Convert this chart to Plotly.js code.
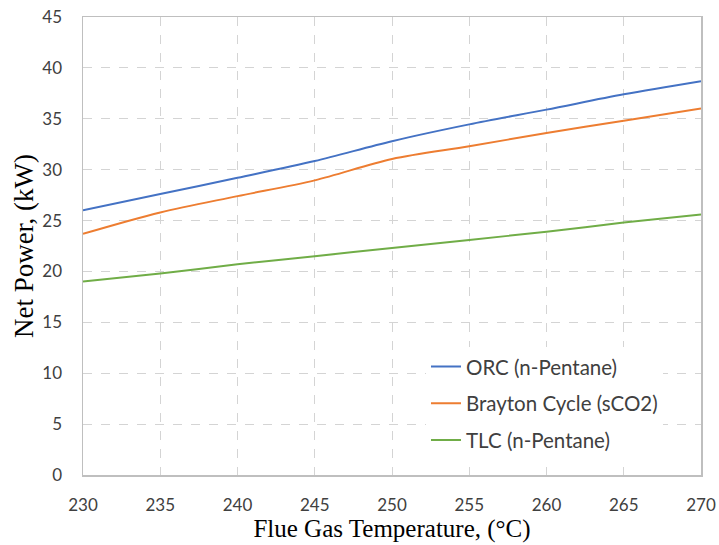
<!DOCTYPE html>
<html>
<head>
<meta charset="utf-8">
<script src="https://cdn.plot.ly/plotly-3.0.1.min.js"></script>
<style>html,body{margin:0;padding:0;background:#fff;}#chart{width:719px;height:545px;}</style>
</head>
<body>
<div id="chart"></div>
<script>
const temperature = [230, 235, 240, 245, 250, 255, 260, 265, 270];
const orcPentane = [26.0, 27.6, 29.2, 30.85, 32.8, 34.45, 35.9, 37.4, 38.7];
const braytonSco2 = [23.7, 25.8, 27.4, 28.95, 31.05, 32.3, 33.6, 34.8, 36.0];
const tlcPentane = [19.0, 19.8, 20.7, 21.5, 22.3, 23.1, 23.9, 24.8, 25.6];
const seriesNames = ["ORC (n-Pentane)", "Brayton Cycle (sCO2)", "TLC (n-Pentane)"];
const xTicks = [230, 235, 240, 245, 250, 255, 260, 265, 270];
const yTicks = [0, 5, 10, 15, 20, 25, 30, 35, 40, 45];

const colors = ["#4472C4", "#ED7D31", "#70AD47"];
const ys = [orcPentane, braytonSco2, tlcPentane];
const traces = ys.map((y, i) => ({
  x: temperature, y: y, name: seriesNames[i], type: "scatter", mode: "lines",
  line: {color: colors[i], width: 2, shape: "spline", smoothing: 0.9},
  legendgroup: "g" + i
}));

const gridCommon = {
  showgrid: true, gridcolor: "#d4d4d4", griddash: "dash", gridwidth: 1,
  showline: true, linecolor: "#bfbfbf", linewidth: 1.5, mirror: true,
  zeroline: false, ticks: "outside", tickcolor: "rgba(0,0,0,0)",
  tickfont: {family: "Lato, 'Open Sans', sans-serif", size: 17, color: "#404040"}
};

const layout = {
  width: 719, height: 545,
  margin: {l: 83, r: 18, t: 17, b: 70},
  paper_bgcolor: "#fff", plot_bgcolor: "#fff",
  showlegend: true,
  legend: {
    x: 0.555, y: 0.28, xanchor: "left", yanchor: "top",
    bgcolor: "#ffffff", borderwidth: 0,
    traceorder: "grouped", tracegroupgap: 7,
    font: {family: "Lato, 'Open Sans', sans-serif", size: 20.5, color: "#404040"},
    itemwidth: 30
  },
  xaxis: Object.assign({}, gridCommon, {
    range: [230, 270], tickvals: xTicks, ticktext: xTicks.map(String), ticklen: 14,
    title: {text: "Flue Gas Temperature, (°C)", standoff: 5,
      font: {family: "'Liberation Serif', 'Times New Roman', serif", size: 25, color: "#000"}}
  }),
  yaxis: Object.assign({}, gridCommon, {
    range: [0, 45], tickvals: yTicks, ticktext: yTicks.map(String), ticklen: 16,
    title: {text: "Net Power, (kW)", standoff: 1,
      font: {family: "'Liberation Serif', 'Times New Roman', serif", size: 27, color: "#000"}}
  })
};

Plotly.newPlot("chart", traces, layout, {displayModeBar: false, staticPlot: true});
</script>
</body>
</html>
